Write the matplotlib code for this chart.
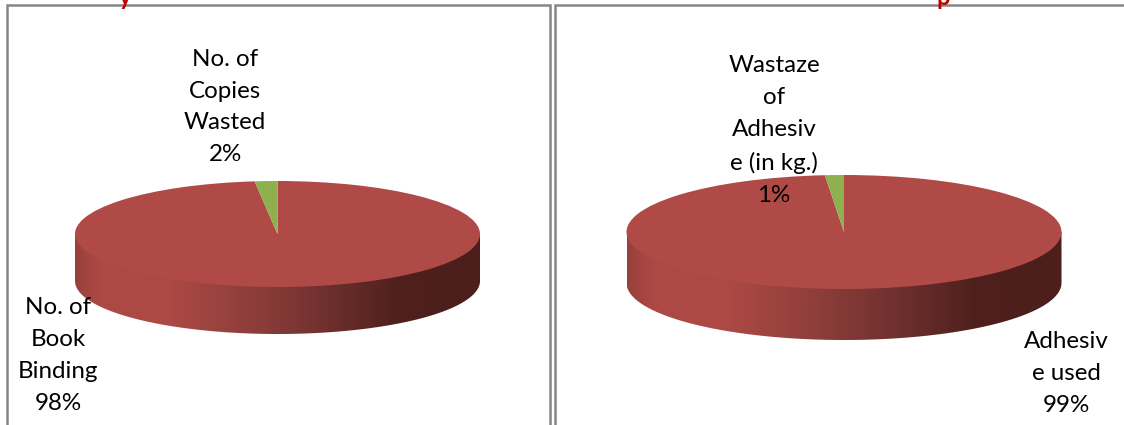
import numpy as np
import matplotlib
matplotlib.use('Agg')
import matplotlib.pyplot as plt
from matplotlib.colors import LinearSegmentedColormap
from matplotlib.patches import Rectangle, Polygon

plt.rcParams['font.family'] = ['Lato', 'DejaVu Sans']

# chart data
left_names = ['No. of\nBook\nBinding', 'No. of\nCopies\nWasted']
left_values = [98.2, 1.8]
right_names = ['Adhesiv\ne used', 'Wastaze\nof\nAdhesiv\ne (in kg.)']
right_values = [98.6, 1.4]

W, H = 1124, 425
RED = '#b04a46'
GREEN = '#8fb04f'
wall_cmap = LinearSegmentedColormap.from_list('wall', [
    (0.0, '#9a403c'), (0.06, '#ad4945'), (0.22, '#ae4a45'), (0.45, '#8c3d3a'),
    (0.62, '#6f302e'), (0.8, '#4f201d'), (1.0, '#4c1f1c')])

fig = plt.figure(figsize=(W / 100, H / 100), dpi=100)


def pixel_axes(z):
    a = fig.add_axes([0, 0, 1, 1], zorder=z)
    a.set_xlim(0, W)
    a.set_ylim(H, 0)
    a.axis('off')
    return a


back = pixel_axes(0)   # frames and pie walls
front = pixel_axes(5)  # labels, above the pies


def draw_pie(values, names, cx, cy, rx, ry, depth, label_pos):
    # side wall first, gradient clipped to the lower half of the ellipse
    t = np.linspace(0, np.pi, 200)
    lower = np.c_[cx + rx * np.cos(t), cy + depth + ry * np.sin(t)]
    wall = Polygon(np.vstack([[[cx + rx, cy]], lower, [[cx - rx, cy]]]), closed=True,
                   fc='none', ec='none', transform=back.transData)
    back.add_patch(wall)
    im = back.imshow(np.linspace(0, 1, 256).reshape(1, -1), cmap=wall_cmap, aspect='auto',
                     extent=(cx - rx, cx + rx, cy + depth + ry, cy), zorder=2)
    im.set_clip_path(wall)
    back.set_xlim(0, W)
    back.set_ylim(H, 0)

    # top face is a real pie, squashed by its axes
    ax = fig.add_axes([(cx - rx) / W, 1 - (cy + ry) / H, 2 * rx / W, 2 * ry / H], zorder=3)
    ax.patch.set_alpha(0)
    ax.pie(values, colors=[RED, GREEN], startangle=90, counterclock=False, radius=1,
           wedgeprops=dict(linewidth=0))
    ax.set_aspect('auto')
    ax.set_xlim(-1, 1)
    ax.set_ylim(-1, 1)

    for name, val, (lx, ly) in zip(names, values, label_pos):
        front.text(lx, ly, f'{name}\n{val:.0f}%', ha='center', va='center', fontsize=17.4,
                   color='black', linespacing=1.64, zorder=10)


# frames
for x0, x1 in [(6.5, 549.5), (555, 1130)]:
    back.add_patch(Rectangle((x0, 5), x1 - x0, H, fc='white', ec='#868686', lw=1.8, zorder=1))

draw_pie(left_values, left_names, 277.5, 234, 202.5, 53, 47, [(58, 355.5), (225, 107)])
draw_pie(right_values, right_names, 844, 232, 217.5, 57, 51, [(1066, 373.5), (774, 130.5)])

# bits of the cropped headings above the frames
front.text(125, -3, 'y', color='#c00000', fontsize=17, fontweight='bold', ha='center', va='center')
front.text(943, -3, 'p', color='#c00000', fontsize=17, fontweight='bold', ha='center', va='center')

fig.savefig('out.png', dpi=100)
